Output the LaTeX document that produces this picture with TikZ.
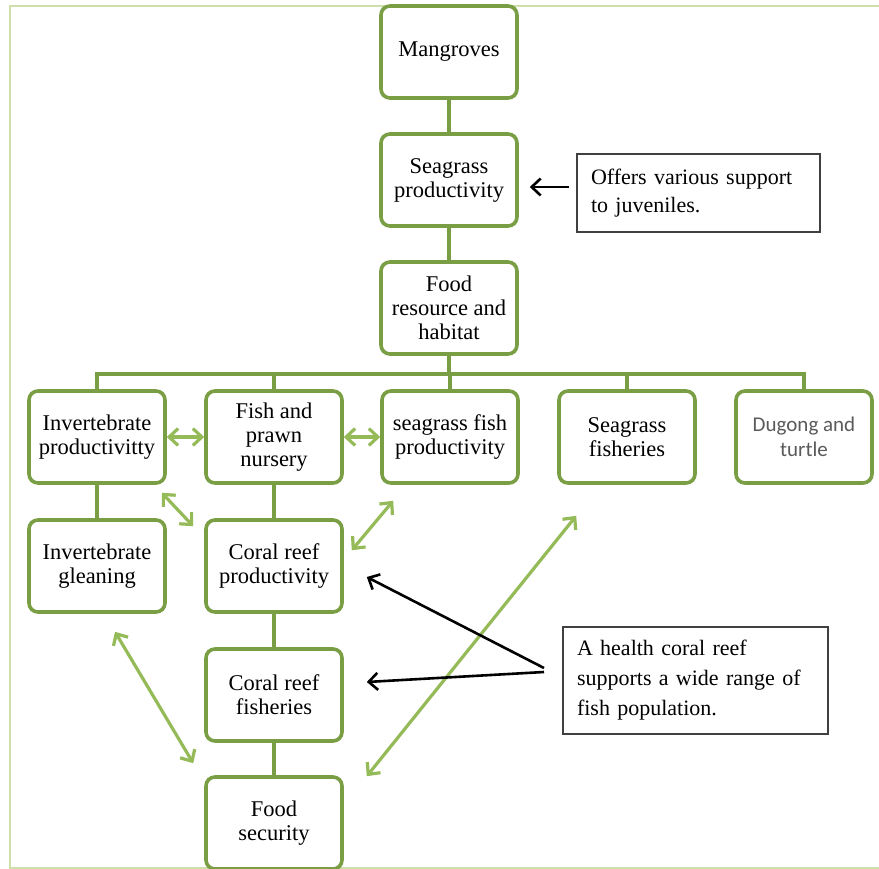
\documentclass[tikz,border=0pt]{standalone}
\usepackage{fontspec}
\setmainfont{Liberation Serif}
\newfontfamily\calibrifont{Carlito}
\usepackage{tikz}
\usetikzlibrary{calc, positioning, arrows.meta}
\definecolor{boxgreen}{RGB}{122,158,68}
\definecolor{arrowgreen}{RGB}{148,187,88}
\definecolor{framegreen}{RGB}{205,224,170}
\definecolor{dugonggray}{RGB}{90,90,90}
\newcommand\greenbox[4]{\node[gbox] (#1) at (#2,#3) {#4};}

\begin{document}
\begin{tikzpicture}[x=1pt, y=-1pt,
  gbox/.style={draw=boxgreen, line width=3.6pt, rounded corners=9pt, fill=white,
    minimum width=136pt, minimum height=92pt, inner sep=2pt, align=center,
    font=\fontsize{22.5}{24}\selectfont},
  notebox/.style={draw=black!75, line width=1.2pt, fill=white, align=left,
    inner xsep=14pt, font=\fontsize{22}{28}\selectfont},
  link/.style={draw=boxgreen, line width=3.6pt},
  twoway/.style={draw=arrowgreen, line width=3.2pt, {Straight Barb[length=9pt,width=17pt]}-{Straight Barb[length=9pt,width=17pt]}},
  pointer/.style={draw=black, line width=2.6pt, -{Straight Barb[length=9pt,width=17pt]}}]
\useasboundingbox (0,0) rectangle (879,869);
\draw[framegreen, line width=1.5pt] (10,6) rectangle (890,868);

% main column
\greenbox{mangroves}{449}{52}{Mangroves}
\greenbox{seagrass}{449}{180}{Seagrass\\productivity}
\greenbox{foodres}{449}{308}{Food\\resource and\\habitat}

% second row
\greenbox{invprod}{97}{437}{Invertebrate\\productivitty}
\greenbox{fish}{274}{437}{Fish and\\prawn\\nursery}
\greenbox{sgfish}{450}{437}{seagrass fish\\productivity}
\greenbox{sgfisheries}{627}{437}{Seagrass\\fisheries}
\node[gbox, font=\calibrifont\fontsize{21}{25}\selectfont, text=dugonggray] (dugong) at (804,437) {Dugong and\\turtle};

% lower boxes
\greenbox{invglean}{97}{566}{Invertebrate\\gleaning}
\greenbox{coralprod}{274}{566}{Coral reef\\productivity}
\greenbox{coralfish}{274}{695}{Coral reef\\fisheries}
\greenbox{foodsec}{274}{823}{Food\\security}

% notes
\node[notebox, minimum width=243pt, minimum height=78pt, text width=215pt] (offers) at (698.5,193) {Offers various support\\to juveniles.};
\node[notebox, minimum width=265pt, minimum height=107pt, text width=237pt, font=\fontsize{22}{30}\selectfont] (health) at (695.5,680.5) {A health coral reef\\supports a wide range of\\fish population.};

% tree lines
\coordinate (bus) at (449,374);
\draw[link] (mangroves) -- (seagrass);
\draw[link] (seagrass) -- (foodres);
\draw[link] (foodres) -- (bus);
\draw[link] (invprod.north) |- (bus) -| (dugong.north);
\foreach \b in {fish,sgfish,sgfisheries}
  \draw[link] (\b.north) -- (\b.north |- bus);
\draw[link] (invprod) -- (invglean);
\draw[link] (fish) -- (coralprod);
\draw[link] (coralprod) -- (coralfish);
\draw[link] (coralfish) -- (foodsec);

% two way arrows
\draw[twoway] (invprod.east) -- (fish.west);
\draw[twoway] (fish.east) -- (sgfish.west);
\draw[twoway] ($(invprod.south east)+(-5,8)$) -- ($(coralprod.north west)+(-11,8)$);
\draw[twoway] ($(coralprod.north east)+(8,32)$) -- ($(sgfish.south west)+(13,16)$);
\draw[twoway] ($(invglean.south)+(18,18)$) -- ($(foodsec.north west)+(-11,-12)$);
\draw[twoway] ($(foodsec.north east)+(23,1)$) -- ($(sgfisheries.south west)+(19,31)$);

% pointers from notes
\draw[pointer] ($(offers.west)+(-7,-6)$) -- ($(seagrass.east)+(11,7)$);
\coordinate (fromhealth) at (544,668);
\draw[pointer] (fromhealth) -- ($(coralprod.east)+(23,11)$);
\draw[pointer] ([yshift=-4pt]fromhealth) -- ($(coralfish.east)+(23,-13)$);
\end{tikzpicture}
\end{document}
